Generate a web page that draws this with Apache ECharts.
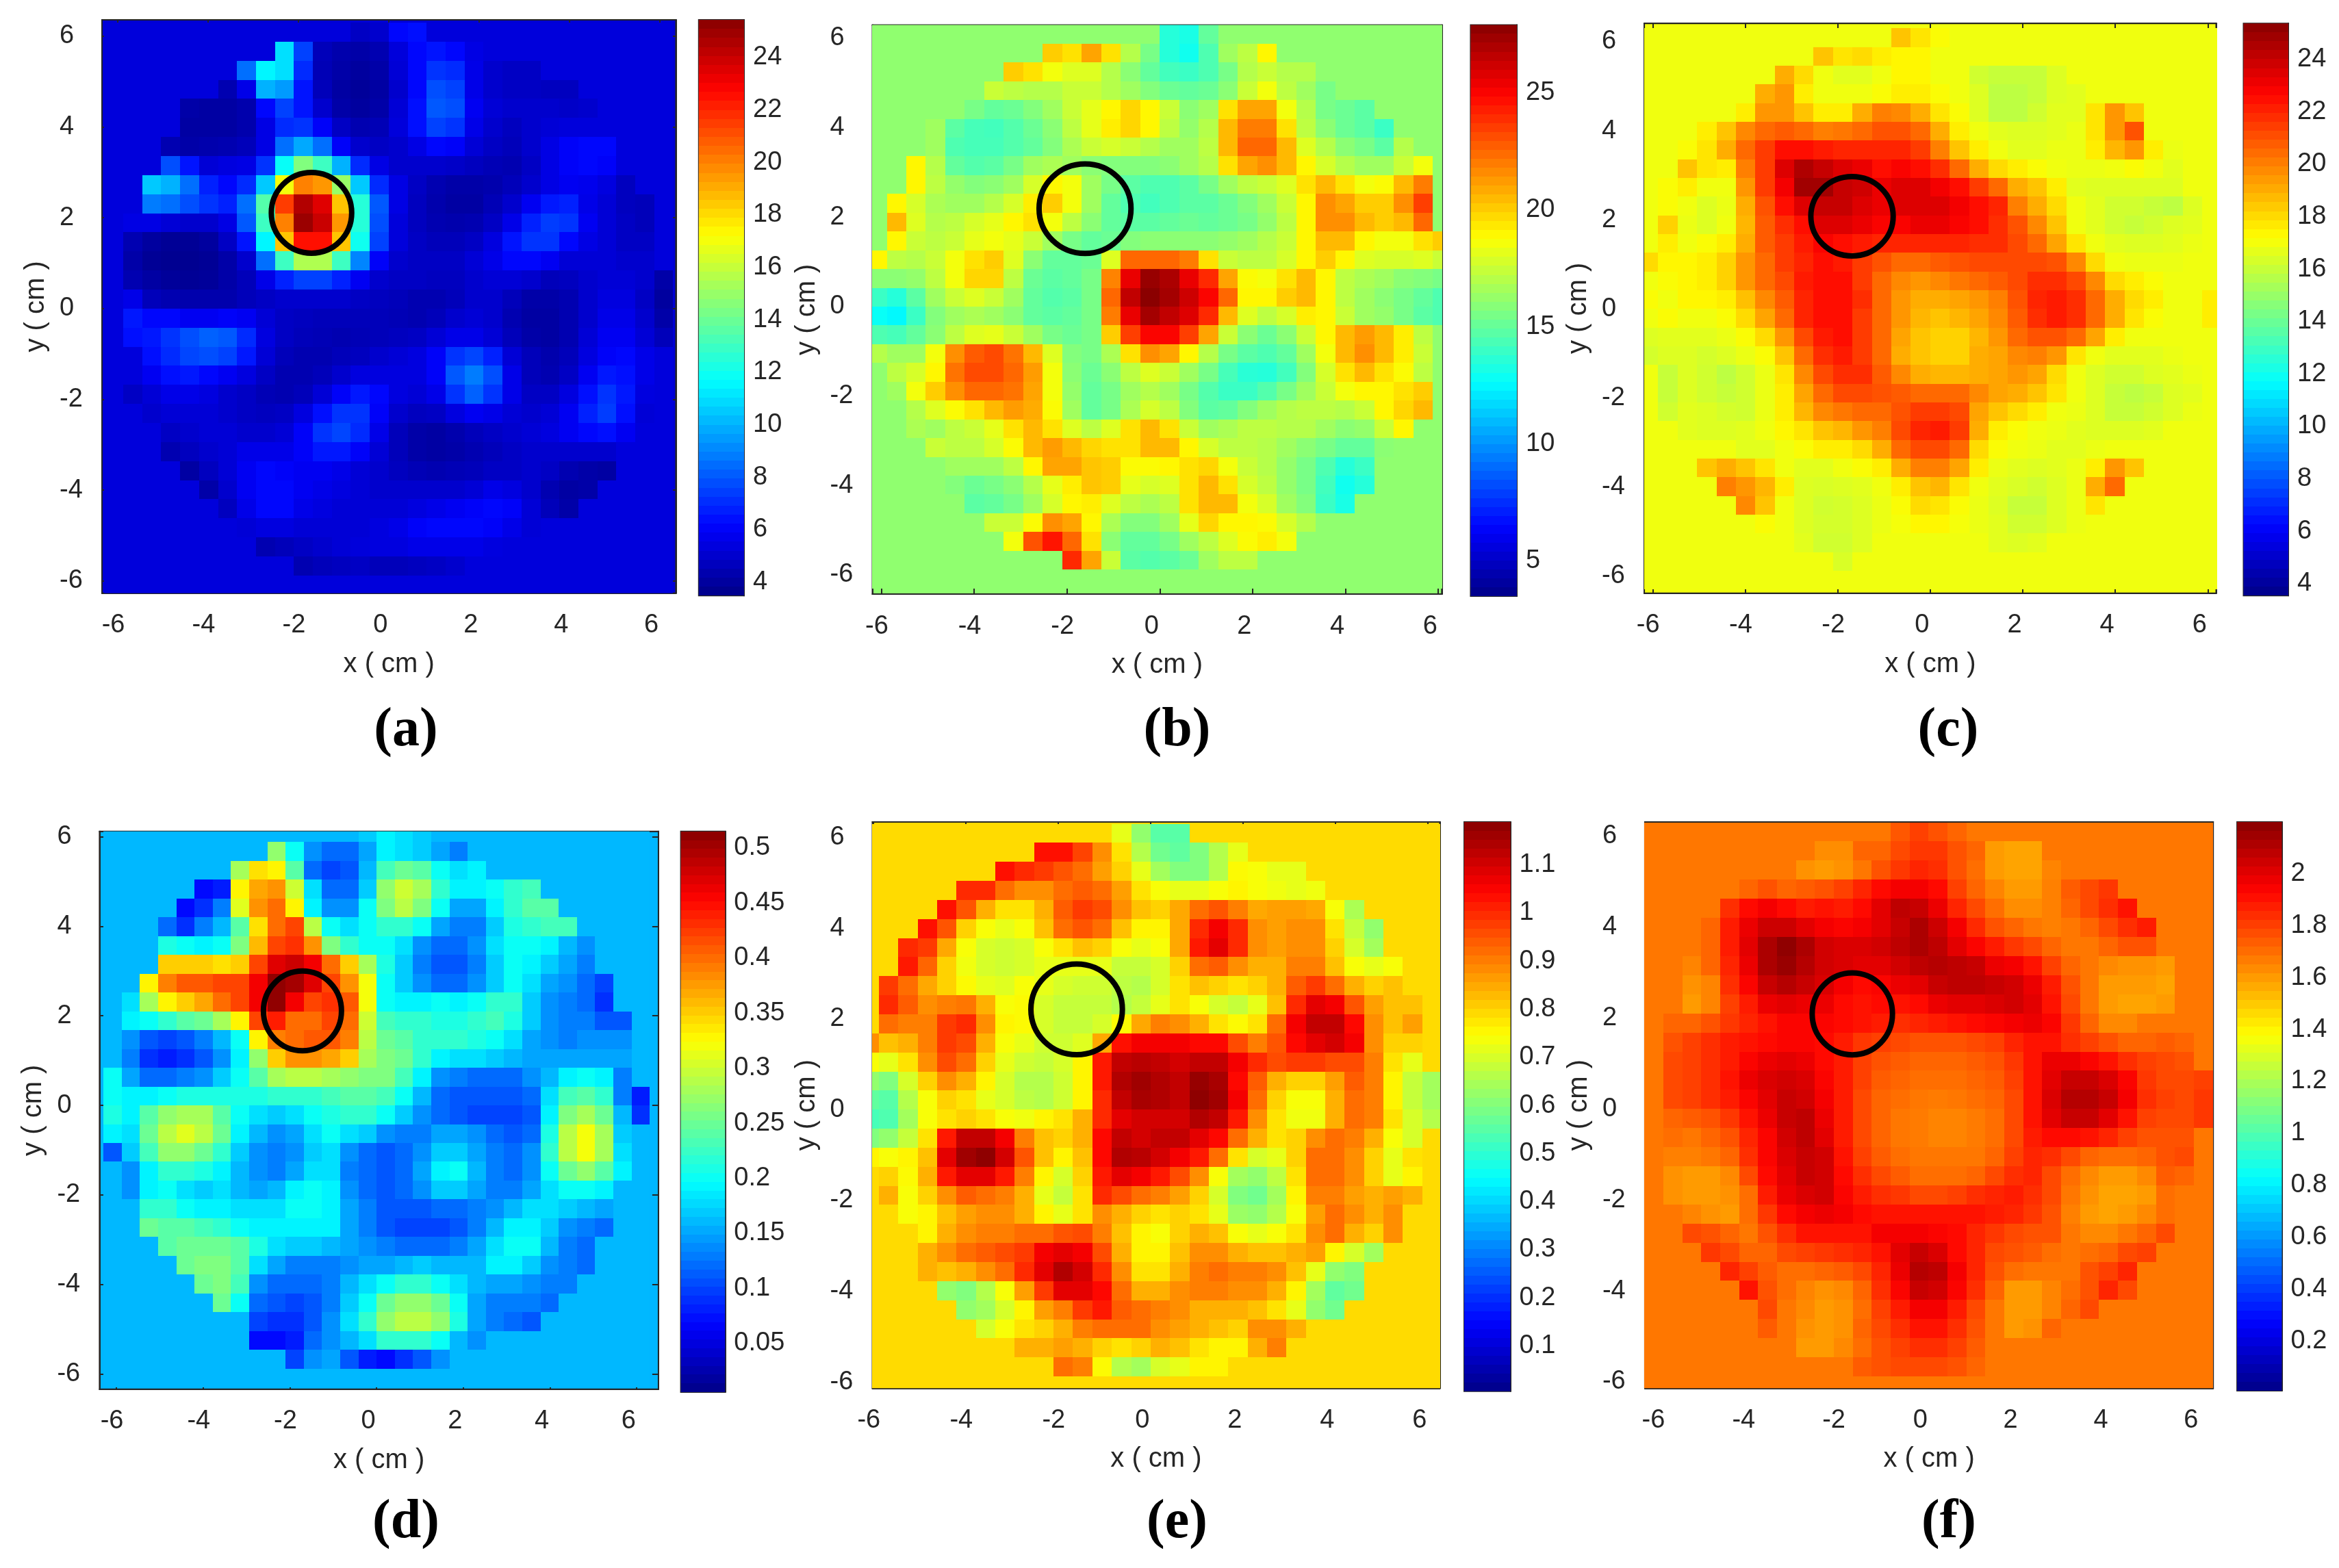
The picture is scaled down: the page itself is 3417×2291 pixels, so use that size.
<!DOCTYPE html>
<html><head><meta charset="utf-8">
<style>html,body{margin:0;padding:0;background:#fff}#c{width:3417px;height:2291px}</style>
<script src="https://cdn.jsdelivr.net/npm/echarts@6/dist/echarts.min.js"></script>
</head><body><div id="c"></div>
<script>
// Each row: first number = column where the measured disc starts, then values. Rows run top to bottom.
// Units: a,b,c in 0.1; d,e,f in 0.01
const baseA=53, rowsA=[
[13,48,50,62,64],
[9,110,75,46,43,42,44,53,62,65,62,55],
[7,85,115,110,70,45,42,40,42,52,62,72,70,56,50,48,48],
[5,53,44,56,100,95,65,46,41,39,41,50,62,78,75,56,50,48,48,47,47],
[4,42,41,41,43,62,75,65,50,42,40,42,52,64,80,78,58,52,50,50,50,49,50],
[3,53,41,41,41,43,55,70,72,60,48,44,45,53,64,75,72,56,50,47,50,52,53,53,53],
[3,44,42,43,44,46,55,85,98,85,60,50,48,50,55,62,60,52,48,46,50,55,60,62,62,53],
[3,78,65,52,54,55,72,118,145,130,100,70,55,50,50,50,49,47,45,44,48,55,60,62,60,53],
[2,105,100,85,68,62,70,105,170,200,195,150,105,70,55,48,44,42,42,43,46,50,55,58,57,54,47],
[1,53,88,85,78,72,68,85,135,215,245,235,185,125,80,55,47,43,41,41,45,50,58,66,68,56,52,47,46],
[1,55,55,52,50,50,55,80,130,200,250,240,195,125,78,53,47,44,43,44,48,56,68,74,72,58,52,48,46],
[1,44,40,38,38,40,48,65,115,185,225,225,185,120,75,53,48,46,46,48,54,65,72,72,62,55,52,48,48],
[1,42,38,37,37,38,42,50,85,130,155,155,130,90,60,50,48,48,48,52,56,62,62,58,52,52,52,50,50],
[1,44,41,39,38,39,42,46,56,68,75,75,68,58,50,48,48,47,47,50,52,52,50,46,47,50,52,52,50,42],
[0,53,56,46,44,43,43,43,46,48,50,50,50,50,48,47,46,44,44,46,50,50,46,42,42,44,50,54,54,48,40],
[1,66,62,62,58,58,60,58,52,48,47,46,46,46,46,45,44,46,50,52,50,44,41,41,44,50,56,56,50,42],
[1,64,66,72,78,82,80,70,54,48,46,45,44,45,46,47,48,52,56,56,52,46,42,41,44,52,58,58,52,46],
[2,64,70,76,78,75,66,52,46,44,44,46,47,50,52,54,60,72,76,68,52,46,43,46,54,60,62,56],
[1,53,58,64,66,62,58,54,48,44,44,46,50,54,54,54,54,60,80,88,78,56,46,44,48,58,66,64,56],
[1,48,52,56,56,54,50,48,45,44,46,52,60,66,62,54,52,56,72,82,72,56,48,48,54,64,72,66,54],
[2,50,52,52,52,50,48,47,48,54,64,72,72,60,50,47,48,54,58,56,52,50,52,58,68,74,64,52],
[2,53,48,50,52,52,50,50,52,60,72,76,70,56,46,42,41,43,46,48,50,52,54,58,62,64,58,53],
[3,44,47,50,52,56,56,56,60,66,66,60,52,46,42,41,42,44,46,48,50,50,50,50,50,53],
[4,41,47,52,58,62,60,58,58,56,52,50,47,45,44,45,46,48,48,50,48,44,42,41,53],
[5,42,50,58,62,62,58,56,54,52,50,50,50,50,50,52,56,54,50,44,41,42,53],
[6,47,56,62,62,56,54,52,52,52,52,54,56,58,60,62,60,52,46,42,53],
[7,52,54,54,52,52,52,52,54,56,60,62,62,62,60,56,52],
[8,44,46,48,50,52,53,54,54,56,56,56,56,54],
[10,44,46,47,48,46,46,47,48,50],
[]];
const baseB=161, rowsB=[
[15,135,132,150],
[9,200,195,210,195,170,155,135,130,145,165,172,190],
[7,200,195,185,180,180,170,160,150,142,140,145,155,170,175,170,170],
[6,175,172,170,170,175,175,170,165,158,152,150,152,160,175,185,172,165,155],
[5,155,150,152,158,165,175,182,190,198,190,175,160,165,195,210,210,185,170,155,152,148],
[3,165,148,143,142,146,152,160,172,182,192,198,190,172,162,170,205,220,220,195,172,160,152,148,140],
[3,165,145,143,143,146,150,158,168,175,178,175,170,165,165,172,205,225,225,205,180,170,160,155,148,170],
[2,190,170,150,146,148,155,165,168,165,160,158,158,158,160,165,170,195,210,215,205,190,178,170,165,165,175,185],
[2,190,172,162,158,160,165,178,190,185,165,155,148,145,145,148,155,165,172,175,180,195,205,195,185,188,205,220],
[1,190,178,168,165,165,170,178,192,200,185,165,150,145,142,145,148,148,152,158,165,175,190,215,210,200,200,215,235],
[1,205,180,170,172,178,182,190,195,185,172,160,150,148,148,150,152,150,152,155,162,172,190,215,215,205,200,205,225],
[1,190,175,172,175,182,185,182,175,165,155,150,152,158,160,160,160,160,162,165,170,175,190,205,205,190,185,185,195,200],
[0,190,172,170,175,185,195,200,180,160,150,150,152,180,225,225,225,220,195,175,172,172,178,190,200,190,180,178,178,180,175],
[0,160,160,162,172,185,198,198,172,152,148,150,155,218,255,275,270,255,240,210,188,185,195,205,190,172,168,165,160,158,155],
[0,140,135,148,165,175,180,175,165,150,146,148,155,225,265,278,272,262,250,225,190,190,200,205,190,172,165,160,155,150,145],
[0,128,125,140,158,165,168,165,160,150,148,150,155,220,255,272,265,258,240,205,180,172,178,192,190,175,165,162,155,148,145],
[0,145,143,150,160,172,180,182,175,165,155,152,155,200,235,250,250,235,210,175,160,152,160,175,190,205,212,205,192,172,161],
[0,170,165,165,185,215,228,232,222,205,180,158,155,168,195,215,210,190,170,155,148,145,150,165,185,205,215,205,192,175],
[1,172,178,190,222,232,232,225,212,185,160,152,160,172,180,175,165,155,143,136,135,142,158,178,195,205,195,188,172],
[1,165,185,200,215,225,225,222,210,185,162,150,155,165,170,165,155,146,140,140,146,155,165,175,185,190,190,195,200],
[2,170,180,188,195,205,212,208,188,165,150,155,168,178,172,158,148,150,158,165,170,172,172,170,175,190,198,205],
[2,168,165,172,175,182,195,205,195,180,172,180,195,205,195,175,165,168,172,172,170,170,165,160,162,175,190],
[3,175,172,172,178,188,205,212,205,198,195,195,205,205,190,178,172,172,170,165,160,155,150,150,160],
[4,165,165,165,172,190,210,210,202,200,188,188,190,195,198,185,175,170,162,155,145,135,140],
[4,158,152,155,160,170,182,192,202,200,182,178,180,195,205,195,178,172,162,155,142,130,135],
[5,148,150,155,165,178,190,192,180,172,168,172,195,205,205,185,178,165,158,140,132],
[6,175,175,188,215,210,190,168,158,158,165,182,198,190,190,188,178,170],
[7,185,230,245,225,195,160,150,150,155,165,172,180,188,192,185],
[10,240,210,175,148,146,148,152,165,172,172],
[]];
const baseC=169, rowsC=[
[13,185,178,172],
[9,185,178,180,176,174,174],
[7,190,180,169,166,166,169,174,174,169,169,162,160,160,160,165],
[6,190,195,176,169,169,169,172,176,176,172,169,165,158,158,160,165,166],
[5,176,195,195,185,176,176,190,200,198,190,178,172,165,158,158,162,166,166,178,195,185],
[3,176,185,198,205,208,205,200,202,205,210,210,205,190,176,169,166,165,165,166,168,178,195,210],
[2,172,178,190,205,215,225,225,222,220,220,220,220,215,200,185,176,169,166,166,168,168,176,188,195,176,168],
[2,185,178,176,200,215,235,245,240,235,232,225,228,225,218,205,190,180,176,172,169,168,168,169,172,169,166],
[1,172,176,169,169,195,215,230,248,248,240,238,232,235,235,230,225,215,205,190,185,176,166,165,165,165,165,165,169],
[1,172,169,165,168,190,210,225,235,240,240,235,232,235,235,235,230,225,220,200,190,180,169,166,162,162,160,158,165],
[1,182,168,165,169,188,208,218,225,235,235,232,228,228,232,232,228,225,218,210,198,185,169,166,162,160,162,165,166],
[1,176,169,172,176,190,208,215,222,228,225,222,220,220,220,220,220,218,218,212,205,192,178,169,166,165,165,166,168],
[0,180,174,174,176,182,195,205,215,220,225,222,215,210,205,205,208,210,212,212,212,212,210,198,180,169,168,168,168],
[0,169,172,174,176,182,195,205,212,222,225,225,215,205,198,195,198,202,205,208,212,218,218,212,198,180,176,172,169],
[0,172,169,174,174,176,186,198,208,220,225,225,218,205,195,190,190,192,195,200,210,220,222,218,205,190,180,176,169,169,176],
[1,172,169,169,172,180,192,205,220,225,225,215,205,195,188,185,188,192,198,208,218,222,218,205,190,178,172,169,169,176],
[0,165,166,166,166,168,172,180,195,212,222,225,215,205,192,185,182,182,188,195,205,210,210,205,192,176,169,169,169],
[0,163,165,165,163,165,168,172,185,205,218,222,215,205,190,185,182,182,190,192,198,200,195,178,169,166,166,166,168],
[1,160,165,162,158,162,168,178,198,212,218,218,208,198,190,188,188,190,192,195,192,180,169,165,162,162,165,166,168],
[1,160,165,162,160,162,168,176,192,205,212,212,210,208,205,205,205,198,192,190,185,178,169,165,160,158,160,165,166],
[1,162,166,165,163,162,168,176,188,198,202,205,205,210,215,215,212,192,185,180,176,169,168,165,160,160,162,165,168],
[2,166,165,165,166,169,174,178,185,188,195,200,212,220,222,215,190,176,172,169,168,166,165,165,165,166],
[3,169,169,166,166,169,172,176,176,180,190,205,212,212,205,180,172,169,168,166,166,168,169,169,169],
[3,185,190,185,178,169,166,166,169,172,176,190,200,200,192,176,168,166,165,166,168,176,195,185],
[3,169,200,195,188,176,165,164,165,166,169,176,185,188,178,169,166,164,162,165,168,190,205,169],
[5,198,185,169,165,162,163,165,168,172,180,178,172,168,165,160,160,165,168,178],
[6,172,169,165,163,163,165,168,170,174,174,170,168,166,162,162,165,168],
[8,166,162,162,165,169,169,169,169,169,169,166,165,166],
[10,164],
[]];
const baseD=16, rowsD=[
[14,17,19,18,17],
[9,27,20,14,12,12,15,19,18,17,15,13],
[7,28,34,33,24,12,10,11,16,23,25,24,20,18,19],
[5,7,8,33,37,38,30,18,12,12,17,27,30,28,22,19,19,20,22,23],
[4,7,9,13,31,38,40,33,19,14,14,20,26,29,26,20,15,15,19,22,24,24],
[3,12,9,13,16,24,34,40,42,29,20,18,20,22,22,20,15,13,13,17,21,22,23,23],
[3,21,20,19,20,26,36,42,43,38,26,22,20,20,18,14,12,12,14,18,20,20,19,16,14],
[3,35,35,35,34,35,42,47,48,46,40,35,28,21,17,13,11,11,13,17,20,19,17,15,13],
[2,33,39,41,41,42,42,46,51,50,47,42,38,32,20,17,14,12,12,14,17,20,18,15,14,12,10],
[1,18,28,33,35,37,40,42,46,51,46,42,43,41,32,20,19,19,20,19,20,22,22,17,14,13,12,9,16],
[1,19,20,22,24,25,28,33,42,44,40,40,42,40,30,23,22,22,21,21,22,23,21,17,14,13,13,11,11],
[1,14,11,10,11,13,16,20,33,39,40,41,41,39,29,25,24,22,22,22,21,20,18,15,14,13,14,14,14],
[1,13,9,8,9,11,14,19,27,35,38,38,37,35,28,26,25,22,19,18,18,17,16,15,15,15,15,15,15],
[0,20,15,12,12,13,14,17,20,24,28,29,29,28,27,26,26,23,19,14,13,12,12,12,14,16,19,20,19,13],
[0,20,19,19,20,21,21,21,21,21,22,22,22,23,24,24,23,20,16,12,11,11,11,11,12,18,23,24,22,13,8],
[0,21,19,24,27,28,28,24,20,18,17,18,20,21,22,22,20,17,14,12,11,10,10,10,11,19,26,28,25,16,9],
[0,19,18,25,29,31,29,25,19,16,14,15,18,20,18,17,14,13,13,15,15,14,12,11,12,21,29,32,28,17],
[0,11,17,23,27,27,25,22,17,14,13,14,17,18,14,12,11,12,14,17,17,15,13,12,14,22,29,32,28,18],
[1,14,19,22,22,21,19,16,14,13,15,18,18,13,12,11,12,15,19,20,16,13,12,14,20,25,27,24,19],
[1,14,19,20,18,17,18,16,15,16,19,20,19,14,12,11,12,14,17,17,15,13,13,15,18,20,20,19,16],
[2,22,22,20,19,19,18,18,18,20,20,19,15,13,11,11,11,12,12,13,14,16,18,18,17,16,15],
[2,25,24,24,23,22,20,19,19,19,19,19,15,13,11,10,10,10,11,13,16,19,19,17,14,13,12],
[3,24,25,25,25,24,21,18,17,17,16,15,14,13,12,12,12,13,15,18,20,20,16,13,12],
[4,25,26,26,24,18,15,13,13,13,14,15,15,16,17,16,16,16,19,19,17,14,13,12],
[5,25,26,23,14,12,12,12,13,16,18,20,22,22,20,18,16,15,15,14,13,13],
[6,25,20,12,11,10,11,13,17,20,25,27,27,25,20,15,13,13,13,12],
[7,16,10,9,9,11,14,18,22,27,29,29,27,21,15,13,12,11],
[8,7,7,8,12,14,16,18,22,22,22,20,16,14],
[10,10,14,15,11,8,7,9,11,14],
[]];
const baseE=79, rowsE=[
[13,72,62,55,55],
[9,103,103,97,88,78,66,58,56,60,66,72],
[7,103,100,98,95,92,86,80,72,64,60,60,66,75,74,72,72],
[5,100,100,92,88,88,92,94,92,86,78,74,72,72,74,76,74,73,72,73],
[4,103,95,84,78,78,84,94,98,96,88,82,80,85,92,95,90,85,86,86,85,74,65],
[3,103,95,80,74,72,74,82,92,95,92,82,76,76,85,100,106,100,88,86,88,88,78,68,62],
[2,100,98,85,74,70,69,70,74,78,82,80,74,72,74,85,102,108,100,88,86,88,88,80,70,64],
[2,102,93,80,73,70,69,70,72,72,72,72,68,68,70,80,92,94,88,84,84,90,90,82,74,72,74],
[1,98,92,85,80,75,72,71,74,72,70,69,69,67,66,70,78,82,80,78,80,84,94,98,92,84,80,82],
[1,100,94,88,90,91,84,74,75,70,68,68,68,66,68,72,78,74,70,68,72,82,100,108,106,95,86,82,82],
[1,92,90,90,98,100,88,76,75,70,68,68,70,75,85,90,88,84,78,75,78,92,106,112,112,104,88,82,86],
[0,88,82,84,90,98,96,84,74,72,69,69,71,85,103,106,106,106,104,104,96,90,95,104,108,110,106,88,80,80],
[0,74,72,78,88,96,92,80,72,69,68,70,76,102,112,113,112,110,112,112,106,100,96,98,98,96,96,90,78,72],
[0,62,60,70,80,88,84,76,70,66,66,69,76,102,114,116,114,112,117,115,104,94,84,80,80,86,94,90,76,68,64],
[0,56,55,66,74,80,78,72,70,67,66,69,76,100,112,115,114,112,118,116,106,92,80,74,74,84,92,90,76,68,64],
[0,53,54,64,74,78,80,78,74,73,76,78,84,100,108,110,110,110,114,112,102,88,78,73,73,84,92,90,78,70,66],
[0,60,62,68,78,102,112,112,106,90,82,80,84,104,112,110,112,112,108,104,92,84,78,80,88,92,90,84,74,70],
[0,76,74,76,82,108,116,118,110,95,82,76,82,104,114,113,110,106,102,92,78,70,72,80,92,92,88,80,72,78],
[1,80,75,84,102,108,108,102,90,76,70,80,102,108,106,102,96,88,74,64,62,67,78,92,92,88,80,72,76],
[1,84,74,80,88,94,92,90,84,72,68,78,100,96,92,90,86,80,70,60,58,64,76,90,90,86,84,86,84],
[2,74,76,82,86,88,88,84,76,72,78,88,84,80,78,80,78,72,63,62,66,74,86,92,88,84,88],
[2,79,76,84,88,90,90,92,92,95,96,90,82,76,74,80,84,82,74,72,74,78,88,92,84,80,88],
[3,84,88,92,94,96,98,106,108,106,96,84,76,76,82,88,88,84,82,82,84,86,76,70,64],
[3,84,82,84,88,92,100,108,114,110,100,88,78,78,84,90,92,90,90,88,82,72,62,60],
[4,62,60,66,74,86,98,108,108,104,92,84,84,88,90,90,88,88,84,76,64,56,58],
[5,62,64,70,76,86,90,98,102,94,92,90,88,84,84,84,82,78,72,62,58],
[6,70,74,78,80,84,90,92,92,92,88,86,84,82,80,88,88,84],
[8,84,84,86,84,80,78,80,84,82,78,76,76,84,90],
[10,92,90,75,66,64,70,72,76,76],
[]];
const baseF=168, rowsF=[
[13,175,180,176,172],
[9,163,163,172,172,178,182,182,176,172,160,158,158],
[8,162,160,162,168,176,182,186,184,176,170,160,158,158,165],
[5,172,176,172,174,176,180,186,192,196,196,192,180,172,165,160,160,166,174,178,182],
[4,184,192,196,192,188,190,188,192,200,208,206,198,186,178,170,163,163,166,172,178,184,190],
[3,172,188,198,205,205,200,196,194,196,200,206,212,205,196,185,176,172,168,166,168,172,178,184,188],
[3,172,188,200,212,218,212,204,202,202,204,208,212,208,200,194,188,182,178,172,168,168,172,176,176],
[2,165,172,186,198,212,216,210,204,202,200,200,204,208,210,208,206,198,196,190,180,172,168,164,162,162,160],
[2,162,165,184,194,206,210,206,202,196,192,194,198,200,206,208,208,206,204,198,188,176,168,160,160,160,158],
[1,168,160,165,180,188,198,200,198,198,192,190,192,190,192,198,200,200,202,204,200,190,178,168,160,158,158,160],
[1,172,172,176,182,186,190,194,194,194,192,190,188,184,186,188,190,192,194,196,198,194,182,172,164,164,168,168],
[1,176,180,184,188,190,192,194,194,192,188,182,180,178,176,176,176,178,180,186,190,190,184,180,176,172,172,174,172],
[1,178,180,184,188,194,198,200,198,192,188,180,176,174,172,172,172,174,176,182,190,198,198,194,190,184,180,178,176],
[1,178,180,184,190,198,202,204,202,194,188,180,174,172,170,170,170,172,174,180,190,200,206,206,202,194,182,178,178,180],
[1,178,180,184,188,194,200,206,204,196,188,178,172,170,168,167,168,170,172,178,190,202,210,210,206,196,184,180,178,182],
[1,172,174,176,182,190,198,206,208,198,188,178,172,168,167,165,165,167,170,178,190,200,206,206,200,190,180,178,178,182],
[1,170,168,172,176,186,194,204,208,200,188,178,172,168,167,165,165,167,170,178,188,192,192,190,186,180,176,176,176],
[1,166,166,168,172,184,194,202,206,204,190,180,174,170,168,168,168,168,172,180,186,184,178,172,170,170,172,176,178],
[1,162,160,160,164,178,192,200,206,204,192,184,178,174,170,170,170,172,178,184,186,178,170,164,160,160,164,174,172],
[1,162,160,160,162,170,188,198,202,204,194,188,184,182,178,178,180,184,186,188,184,178,168,162,158,158,160,170],
[2,165,162,160,170,182,192,196,198,196,192,190,190,190,190,190,190,188,186,182,176,166,160,158,160,164,170],
[2,178,176,172,168,176,184,190,190,190,190,196,196,196,194,192,186,182,178,176,176,168,164,164,168,172,178],
[3,182,178,172,172,178,180,182,184,186,190,200,206,202,192,186,178,176,174,170,168,170,172,178,180],
[4,186,180,174,170,170,172,174,178,186,198,210,208,196,186,176,170,168,168,168,176,180,186],
[5,190,176,170,165,162,164,172,184,194,206,204,194,184,172,160,160,165,170,176,186,178],
[6,178,168,164,160,162,170,180,188,196,196,188,178,168,160,160,165,172,178],
[6,174,168,162,160,162,172,178,184,190,190,184,176,168,160,162,172],
[8,160,160,164,170,176,180,184,184,180,174,168],
[11,174,176,178,178,178,176,172],
[]];
const ticks=[-6,-4,-2,0,2,4,6];
const cbTicksA=[4,6,8,10,12,14,16,18,20,22,24];
const cbTicksB=[5,10,15,20,25];
const cbTicksC=[4,6,8,10,12,14,16,18,20,22,24];
const cbTicksD=[0.05,0.1,0.15,0.2,0.25,0.3,0.35,0.4,0.45,0.5];
const cbTicksE=[0.1,0.2,0.3,0.4,0.5,0.6,0.7,0.8,0.9,1,1.1];
const cbTicksF=[0.2,0.4,0.6,0.8,1,1.2,1.4,1.6,1.8,2];

const panels=[
 {tag:'a',rows:rowsA,base:baseA,unit:0.1,vmin:3.48,vmax:25.43,cbTicks:cbTicksA,L:149,R:987.4,T:29.1,B:866.7,cL:1020.8,cR:1087,cB:870.3,x:[-6.35,6.36],y:[-6.27,6.36],c:[-1.71,2.11],r:[0.89,0.89],tx:588,ty:1069},
 {tag:'b',rows:rowsB,base:baseB,unit:0.1,vmin:3.5,vmax:27.9,cbTicks:cbTicksB,L:1274.5,R:2106.3,T:36.4,B:868.1,cL:2148.4,cR:2216,cB:871,x:[-6.19,6.075],y:[-6.43,6.3],c:[-1.61,2.19],r:[0.99,1.0],tx:1714.5,ty:1069},
 {tag:'c',rows:rowsC,base:baseC,unit:0.1,vmin:3.54,vmax:25.37,cbTicks:cbTicksC,L:2402.1,R:3237.5,T:34.2,B:866.7,cL:3277.5,cR:3343,cB:870.3,x:[-6.18,6.18],y:[-6.38,6.41],c:[-1.69,2.08],r:[0.89,0.89],tx:2841,ty:1069},
 {tag:'d',rows:rowsD,base:baseD,unit:0.01,vmin:0.0057,vmax:0.515,cbTicks:cbTicksD,L:145.4,R:961.9,T:1214.7,B:2029.8,cL:994.6,cR:1059.3,cB:2034.1,x:[-6.39,6.5],y:[-6.34,6.12],c:[-1.71,2.11],r:[0.9,0.89],tx:588,ty:2226},
 {tag:'e',rows:rowsE,base:baseE,unit:0.01,vmin:0.006,vmax:1.189,cbTicks:cbTicksE,L:1274.5,R:2103.4,T:1200.9,B:2028.3,cL:2139,cR:2206.6,cB:2032.7,x:[-6.02,6.26],y:[-6.14,6.34],c:[-1.6,2.21],r:[0.99,1.0],tx:1714.5,ty:2226},
 {tag:'f',rows:rowsF,base:baseF,unit:0.01,vmin:0.008,vmax:2.2,cbTicks:cbTicksF,L:2402.9,R:3233.2,T:1200.9,B:2028.3,cL:3268.1,cR:3333.5,cB:2031.9,x:[-6.29,6.31],y:[-6.14,6.31],c:[-1.69,2.09],r:[0.89,0.9],tx:2842,ty:2226}
];

const N=30, CELL=0.42, X0=-6.09, LEVELS=64;
const INK='#262626', FONT='"Liberation Sans", Arial, sans-serif';
function jet(t){
  const f=v=>Math.round(255*Math.max(0,Math.min(1,v)));
  const r=Math.min(4*t-1.5,-4*t+4.5),g=Math.min(4*t-0.5,-4*t+3.5),b=Math.min(4*t+0.5,-4*t+2.5);
  return 'rgb('+f(r)+','+f(g)+','+f(b)+')';
}
const jetColors=[];for(let i=0;i<LEVELS;i++)jetColors.push(jet((i+0.5)/LEVELS));

const opt={animation:false,backgroundColor:'#fff',title:[],grid:[],xAxis:[],yAxis:[],series:[],visualMap:[]};

function cellRender(params,api){
  const x=api.value(0),y=api.value(1),h=CELL/2;
  const a=api.coord([x-h,y+h]),b=api.coord([x+h,y-h]);
  const x0=Math.round(a[0]),y0=Math.round(a[1]),x1=Math.round(b[0]),y1=Math.round(b[1]);
  return {type:'rect',shape:{x:x0,y:y0,width:x1-x0,height:y1-y0},style:{fill:api.visual('color')}};
}
function circleRender(params,api){
  const p=api.coord([api.value(0),api.value(1)]);
  const s=api.size([api.value(2),api.value(3)]);
  return {type:'ellipse',shape:{cx:p[0],cy:p[1],rx:s[0],ry:s[1]},style:{fill:'none',stroke:'#000',lineWidth:8}};
}
function tickLabelX(v){ return v<0 ? '{n|'+v+'}' : '{p|'+v+'}'; }

panels.forEach((P,k)=>{
  const g=k*2;
  const bgT=(P.base*P.unit-P.vmin)/(P.vmax-P.vmin);
  opt.grid.push({left:P.L,top:P.T,width:P.R-P.L,height:P.B-P.T,show:true,backgroundColor:jet(bgT),borderColor:INK,borderWidth:2,containLabel:false});
  opt.grid.push({left:P.cL,top:P.T,width:P.cR-P.cL,height:P.cB-P.T,show:true,backgroundColor:'#fff',borderColor:INK,borderWidth:2});
  const xi=opt.xAxis.length, yi=opt.yAxis.length;
  const line={show:true,onZero:false,lineStyle:{color:INK,width:2}};
  const tick={show:true,inside:true,length:9,customValues:ticks,lineStyle:{color:INK,width:2}};
  opt.xAxis.push({type:'value',gridIndex:g,min:P.x[0],max:P.x[1],position:'bottom',axisLine:line,axisTick:tick,splitLine:{show:false},
    name:'x ( cm )',nameLocation:'middle',nameGap:84,nameTextStyle:{color:INK,fontFamily:FONT,fontSize:40},
    axisLabel:{show:true,customValues:ticks,margin:28,formatter:tickLabelX,color:INK,fontFamily:FONT,fontSize:38,
      rich:{n:{color:INK,fontFamily:FONT,fontSize:38,padding:[0,13,0,0]},p:{color:INK,fontFamily:FONT,fontSize:38,padding:[0,24,0,0]}}}});
  opt.xAxis.push({type:'value',gridIndex:g,min:P.x[0],max:P.x[1],position:'top',axisLine:line,axisTick:tick,axisLabel:{show:false},splitLine:{show:false}});
  opt.xAxis.push({type:'value',gridIndex:g+1,min:0,max:1,show:false});
  opt.yAxis.push({type:'value',gridIndex:g,min:P.y[0],max:P.y[1],position:'left',axisLine:line,axisTick:tick,splitLine:{show:false},
    name:'y ( cm )',nameLocation:'middle',nameGap:76,nameRotate:90,nameTextStyle:{color:INK,fontFamily:FONT,fontSize:40},
    axisLabel:{show:true,customValues:ticks,margin:62,align:'left',padding:[8,0,0,0],color:INK,fontFamily:FONT,fontSize:38}});
  opt.yAxis.push({type:'value',gridIndex:g,min:P.y[0],max:P.y[1],position:'right',axisLine:line,axisTick:tick,axisLabel:{show:false},splitLine:{show:false}});
  opt.yAxis.push({type:'value',gridIndex:g+1,min:P.vmin,max:P.vmax,position:'right',axisLine:line,
    axisTick:{show:true,inside:true,length:8,customValues:P.cbTicks,lineStyle:{color:INK,width:2}},splitLine:{show:false},
    axisLabel:{show:true,customValues:P.cbTicks,margin:13,padding:[8,0,0,0],color:INK,fontFamily:FONT,fontSize:38,formatter:v=>String(+(+v).toFixed(2))}});

  const data=[];
  P.rows.forEach((row,j)=>{
    const start=row.length?row[0]:N;
    for(let i=0;i<N;i++){
      const hasVal=i>=start && (i-start+1)<row.length;
      const v=(hasVal?row[i-start+1]:P.base)*P.unit;
      data.push([X0+CELL*i,-X0-CELL*j,v]);
    }
  });
  const si=opt.series.length;
  opt.series.push({type:'custom',coordinateSystem:'cartesian2d',xAxisIndex:xi,yAxisIndex:yi,clip:true,renderItem:cellRender,encode:{x:0,y:1},data:data,z:2,silent:true});
  opt.series.push({type:'custom',coordinateSystem:'cartesian2d',xAxisIndex:xi,yAxisIndex:yi,clip:true,renderItem:circleRender,encode:{x:0,y:1},data:[[P.c[0],P.c[1],P.r[0],P.r[1]]],z:3,silent:true});
  const step=(P.vmax-P.vmin)/LEVELS, lv=[];
  for(let i=0;i<LEVELS;i++)lv.push([0.5,P.vmin+step*(i+0.5)]);
  opt.series.push({type:'custom',coordinateSystem:'cartesian2d',xAxisIndex:xi+2,yAxisIndex:yi+2,clip:true,
    renderItem:(params,api)=>{const v=api.value(1);const a=api.coord([0,v+step/2]),b=api.coord([1,v-step/2]);
      const y0=Math.round(a[1]),y1=Math.round(b[1]);
      return {type:'rect',shape:{x:a[0],y:y0,width:b[0]-a[0],height:y1-y0},style:{fill:api.visual('color')}};},
    encode:{x:0,y:1},data:lv,z:2,silent:true});
  opt.visualMap.push({type:'continuous',show:false,seriesIndex:[si],dimension:2,min:P.vmin,max:P.vmax,inRange:{color:jetColors}});
  opt.visualMap.push({type:'continuous',show:false,seriesIndex:[si+2],dimension:1,min:P.vmin,max:P.vmax,inRange:{color:jetColors}});
  opt.title.push({text:'{p|(}{b|'+P.tag+'}{p|)}',left:P.tx,top:P.ty-46,textAlign:'center',
    textStyle:{rich:{p:{fontFamily:'"Liberation Serif",serif',fontSize:80,color:'#000'},b:{fontFamily:'"Liberation Serif",serif',fontWeight:'bold',fontSize:80,color:'#000'}}}});
});
echarts.init(document.getElementById('c'),null,{renderer:'canvas',width:3417,height:2291}).setOption(opt);
</script></body></html>
